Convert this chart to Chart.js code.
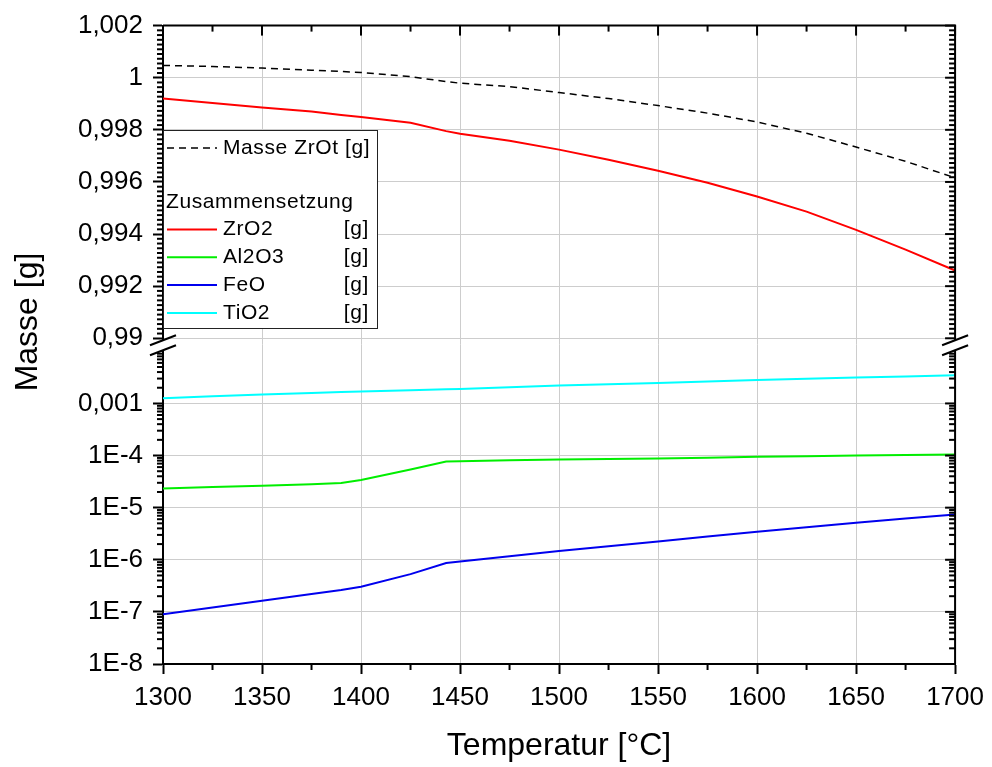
<!DOCTYPE html>
<html>
<head>
<meta charset="utf-8">
<script src="https://cdn.jsdelivr.net/npm/chart.js@4/dist/chart.umd.min.js"></script>
<style>
  html, body { margin: 0; padding: 0; background: #fff; }
</style>
</head>
<body>
<canvas id="myChart" width="992" height="767"></canvas>
<script>
// Temperatures [°C]
const temperatures = [1300, 1325, 1350, 1375, 1390, 1400, 1425, 1443, 1450, 1475, 1500, 1525, 1550, 1575, 1600, 1625, 1650, 1675, 1700];

// upper panel (linear) [g]
const masseZrOt = [1.00047, 1.00043, 1.00037, 1.00029, 1.00024, 1.00020, 1.00004, 0.99985, 0.99979, 0.99966, 0.99943, 0.99920, 0.99893, 0.99864, 0.99830, 0.99787, 0.99734, 0.99679, 0.99616];
const zrO2 = [0.99920, 0.99903, 0.99886, 0.99870, 0.99857, 0.99849, 0.99827, 0.99795, 0.99785, 0.99758, 0.99724, 0.99685, 0.99643, 0.99597, 0.99544, 0.99486, 0.99416, 0.99340, 0.99260];

// lower panel (log) [g]
const al2O3 = [2.32e-5, 2.48e-5, 2.64e-5, 2.82e-5, 2.97e-5, 3.39e-5, 5.4e-5, 7.67e-5, 7.8e-5, 8.1e-5, 8.4e-5, 8.6e-5, 8.77e-5, 9.1e-5, 9.44e-5, 9.7e-5, 1.0e-4, 1.02e-4, 1.045e-4];
const feO = [9.0e-8, 1.22e-7, 1.64e-7, 2.2e-7, 2.62e-7, 3.03e-7, 5.3e-7, 8.69e-7, 9.3e-7, 1.17e-6, 1.47e-6, 1.82e-6, 2.25e-6, 2.8e-6, 3.45e-6, 4.2e-6, 5.13e-6, 6.2e-6, 7.38e-6];
const tiO2 = [1.26e-3, 1.37e-3, 1.48e-3, 1.59e-3, 1.65e-3, 1.69e-3, 1.79e-3, 1.87e-3, 1.90e-3, 2.05e-3, 2.21e-3, 2.34e-3, 2.47e-3, 2.64e-3, 2.82e-3, 2.97e-3, 3.13e-3, 3.30e-3, 3.47e-3];

// ticks
const xTicks = [1300, 1350, 1400, 1450, 1500, 1550, 1600, 1650, 1700];
const xMinorTicks = [1325, 1375, 1425, 1475, 1525, 1575, 1625, 1675];
const linTicks = [0.99, 0.992, 0.994, 0.996, 0.998, 1, 1.002];
const logTicks = [1e-8, 1e-7, 1e-6, 1e-5, 1e-4, 1e-3];

const FONT = "'Liberation Sans', Arial, Helvetica, sans-serif";
const BREAK = 0.25;      // gap between the panels, in decades of the log axis
const LIN_MINOR = 10;    // minor ticks between two major ticks on the linear part
const GRID = '#cdcdcd';

function fmtLin(v) {
  return parseFloat(Number(v).toFixed(3)).toString().replace('.', ',');
}

function fmtLog(v) {
  const e = Math.round(Math.log10(v));
  if (e >= -3) return '0,001';
  return '1E' + e;
}

function line(ctx, x1, y1, x2, y2) {
  ctx.beginPath();
  ctx.moveTo(x1, y1);
  ctx.lineTo(x2, y2);
  ctx.stroke();
}

const decor = {
  id: 'decor',
  afterDatasetsDraw(chart) {
    const ctx = chart.ctx;
    const a = chart.chartArea;
    const sx = chart.scales.x;
    const yT = chart.scales.yTop;
    const yL = chart.scales.yLog;

    ctx.save();
    ctx.strokeStyle = '#000';
    ctx.lineWidth = 2;

    // top and right frame
    line(ctx, a.left, a.top, a.right + 1, a.top);
    line(ctx, a.right, a.top, a.right, a.bottom);

    // x ticks: top inward, bottom minor outward
    xTicks.forEach(v => {
      const px = sx.getPixelForValue(v);
      line(ctx, px, a.top, px, a.top + 10);
    });
    xMinorTicks.forEach(v => {
      const px = sx.getPixelForValue(v);
      line(ctx, px, a.top, px, a.top + 6);
      line(ctx, px, a.bottom, px, a.bottom + 6);
    });

    // linear panel ticks
    for (let i = 0; i < linTicks.length; i++) {
      const py = yT.getPixelForValue(linTicks[i]);
      line(ctx, a.right, py, a.right - 10, py);
      if (i < linTicks.length - 1) {
        const step = (linTicks[i + 1] - linTicks[i]) / (LIN_MINOR + 1);
        for (let k = 1; k <= LIN_MINOR; k++) {
          const my = yT.getPixelForValue(linTicks[i] + k * step);
          line(ctx, a.left - 6, my, a.left, my);
          line(ctx, a.right, my, a.right - 6, my);
        }
      }
    }

    // log panel ticks
    logTicks.forEach(v => {
      const py = yL.getPixelForValue(v);
      line(ctx, a.right, py, a.right - 10, py);
      for (let m = 2; m <= 9; m++) {
        const my = yL.getPixelForValue(v * m);
        line(ctx, a.left - 6, my, a.left, my);
        line(ctx, a.right, my, a.right - 6, my);
      }
    });

    // axis break
    const yb = yT.bottom;
    const y1 = yb + 2, y2 = yb + 12;
    ctx.fillStyle = '#fff';
    [a.left, a.right].forEach(px => {
      ctx.fillRect(px - 3, y1, 6, y2 - y1);
      line(ctx, px - 13, y1 + 5, px + 13, y1 - 5);
      line(ctx, px - 13, y2 + 5, px + 13, y2 - 5);
    });

    // y title
    ctx.fillStyle = '#000';
    ctx.font = '32px ' + FONT;
    ctx.textAlign = 'center';
    ctx.textBaseline = 'middle';
    ctx.translate(28, 322);
    ctx.rotate(-Math.PI / 2);
    ctx.fillText('Masse [g]', 0, 0);
    ctx.restore();

    // legend
    ctx.save();
    const lx = a.left, ly = 130, lw = 214, lh = 198;
    ctx.fillStyle = '#fff';
    ctx.fillRect(lx, ly, lw, lh);
    ctx.strokeStyle = '#222';
    ctx.lineWidth = 1;
    ctx.strokeRect(lx + 0.5, ly + 0.5, lw, lh);

    ctx.font = '21px ' + FONT;
    ctx.letterSpacing = '0.6px';
    ctx.textBaseline = 'middle';
    ctx.fillStyle = '#000';
    const ds = chart.data.datasets;

    ctx.strokeStyle = ds[0].borderColor;
    ctx.lineWidth = ds[0].borderWidth;
    ctx.setLineDash(ds[0].borderDash);
    line(ctx, lx + 4, ly + 18, lx + 54, ly + 18);
    ctx.setLineDash([]);
    ctx.textAlign = 'left';
    ctx.fillText(ds[0].label, lx + 60, ly + 18);

    ctx.fillText('Zusammensetzung', lx + 3, ly + 72);

    for (let i = 1; i < ds.length; i++) {
      const ry = ly + 99.5 + (i - 1) * 27.8;
      ctx.strokeStyle = ds[i].borderColor;
      ctx.lineWidth = 2;
      line(ctx, lx + 4, ry, lx + 54, ry);
      ctx.textAlign = 'left';
      ctx.fillText(ds[i].label, lx + 60, ry);
      ctx.textAlign = 'right';
      ctx.fillText('[g]', lx + 206, ry);
    }
    ctx.restore();
  }
};

function series(label, values, color, axis, extra) {
  return Object.assign({
    label: label,
    data: temperatures.map((t, i) => ({ x: t, y: values[i] })),
    borderColor: color,
    borderWidth: 2,
    pointRadius: 0,
    tension: 0,
    yAxisID: axis,
  }, extra || {});
}

Chart.defaults.color = '#000';
Chart.defaults.font.family = FONT;

const myChart = new Chart(document.getElementById('myChart'), {
  type: 'line',
  data: {
    datasets: [
      series('Masse ZrOt [g]', masseZrOt, '#000', 'yTop', { borderWidth: 1.5, borderDash: [7, 5] }),
      series('ZrO2', zrO2, '#ff0000', 'yTop'),
      series('Al2O3', al2O3, '#00ee00', 'yLog'),
      series('FeO', feO, '#0000ee', 'yLog'),
      series('TiO2', tiO2, '#00ffff', 'yLog'),
    ],
  },
  options: {
    responsive: false,
    animation: false,
    devicePixelRatio: 1,
    layout: { padding: { top: 23, right: 35, left: 0, bottom: 0 } },
    plugins: { legend: { display: false }, tooltip: { enabled: false } },
    scales: {
      x: {
        type: 'linear',
        min: 1300,
        max: 1700,
        afterBuildTicks: s => { s.ticks = xTicks.map(v => ({ value: v })); },
        afterFit: s => { s.height = 103; },
        ticks: { font: { size: 26 }, padding: 8, maxRotation: 0, autoSkip: false, callback: v => String(v) },
        grid: { color: GRID, lineWidth: 1, tickColor: '#000', tickLength: 10, tickWidth: 2 },
        border: { color: '#000', width: 2 },
        title: { display: true, text: 'Temperatur [°C]', font: { size: 32 }, padding: { top: 4, bottom: 2 } },
      },
      yLog: {
        type: 'logarithmic',
        position: 'left',
        stack: 'v',
        stackWeight: 6 + BREAK,
        weight: 0,
        min: 1e-8,
        max: Math.pow(10, -2 + BREAK),
        afterBuildTicks: s => { s.ticks = logTicks.map(v => ({ value: v })); },
        afterFit: s => { s.width = 163; },
        ticks: { font: { size: 26 }, padding: 10, autoSkip: false, callback: v => fmtLog(v) },
        grid: { color: GRID, lineWidth: 1, tickColor: '#000', tickLength: 10, tickWidth: 2 },
        border: { color: '#000', width: 2 },
      },
      yTop: {
        type: 'linear',
        position: 'left',
        stack: 'v',
        stackWeight: 6,
        weight: 1,
        min: 0.99,
        max: 1.002,
        afterBuildTicks: s => { s.ticks = linTicks.map(v => ({ value: v })); },
        afterFit: s => { s.width = 163; },
        ticks: { font: { size: 26 }, padding: 10, autoSkip: false, callback: v => fmtLin(v) },
        grid: { color: GRID, lineWidth: 1, tickColor: '#000', tickLength: 10, tickWidth: 2 },
        border: { color: '#000', width: 2 },
      },
    },
  },
  plugins: [decor],
});
</script>
</body>
</html>
